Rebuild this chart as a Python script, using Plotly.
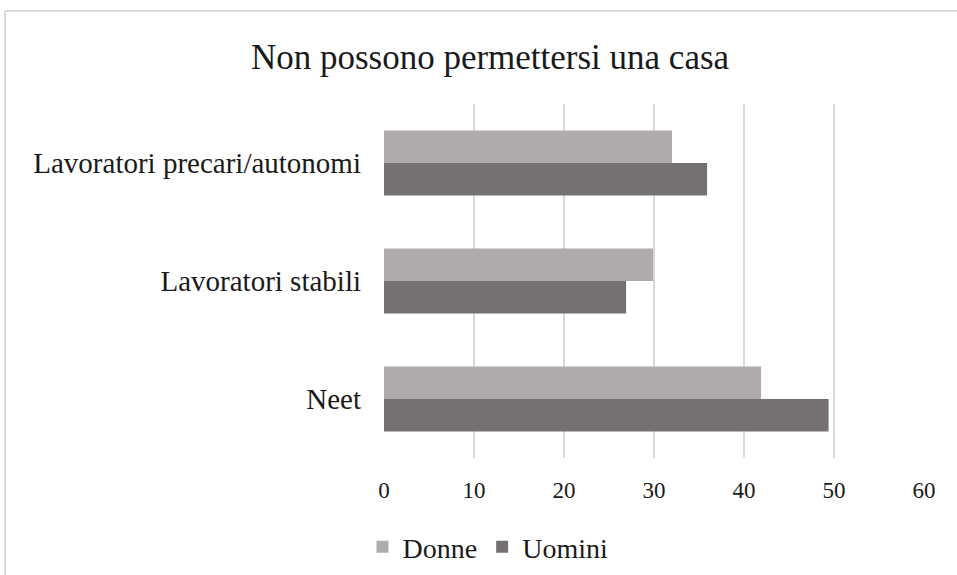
import plotly.graph_objects as go

categories = ["Neet", "Lavoratori stabili", "Lavoratori precari/autonomi"]
donne = [41.9, 29.9, 32.0]
uomini = [49.4, 26.9, 35.9]
x_ticks = [0, 10, 20, 30, 40, 50, 60]

FONT = "Liberation Serif, Times New Roman, serif"

fig = go.Figure()
fig.add_trace(go.Bar(y=categories, x=uomini, name="Uomini", orientation="h",
                     marker=dict(color="#767171", line=dict(width=0)), legendrank=2))
fig.add_trace(go.Bar(y=categories, x=donne, name="Donne", orientation="h",
                     marker=dict(color="#AFABAB", line=dict(width=0)), legendrank=1))

L, R, T, B = 384, 33, 104, 117
pw, ph = 957 - L - R, 575 - T - B

fig.update_layout(
    width=957, height=575,
    margin=dict(l=L, r=R, t=T, b=B, autoexpand=False),
    paper_bgcolor="white", plot_bgcolor="white",
    barmode="group", bargap=0.45, bargroupgap=0,
    font=dict(family=FONT, size=22, color="#1a1a1a"),
    title=dict(text="Non possono permettersi una casa", x=490/957, xanchor="center",
               xref="container", yref="container", y=1-57/575, yanchor="middle",
               font=dict(family=FONT, size=35, color="#1a1a1a")),
    showlegend=True,
    legend=dict(orientation="h", x=(488-L)/pw, xanchor="center", y=(T+ph-547)/ph, yanchor="middle",
                font=dict(family=FONT, size=28), itemwidth=30, traceorder="normal"),
    xaxis=dict(range=[0, 60], tickvals=x_ticks, showgrid=True, gridcolor="#d9d9d9", gridwidth=2,
               zeroline=False, showline=False, ticks="", ticklabelstandoff=16,
               tickfont=dict(family=FONT, size=23)),
    yaxis=dict(showgrid=False, zeroline=False, showline=False, ticks="", ticklabelstandoff=22,
               tickfont=dict(family=FONT, size=29)),
    shapes=[
        dict(type="line", xref="paper", yref="paper", x0=(5-L)/pw, x1=(960-L)/pw,
             y0=1+(T-11)/ph, y1=1+(T-11)/ph, line=dict(color="#d9d9d9", width=2)),
        dict(type="line", xref="paper", yref="paper", x0=(5-L)/pw, x1=(5-L)/pw,
             y0=1+(T-11)/ph, y1=-(B+5)/ph, line=dict(color="#d9d9d9", width=2)),
    ],
)

fig.write_html("out.html", config={"displayModeBar": False},
               post_script="document.body.style.margin='0';")
